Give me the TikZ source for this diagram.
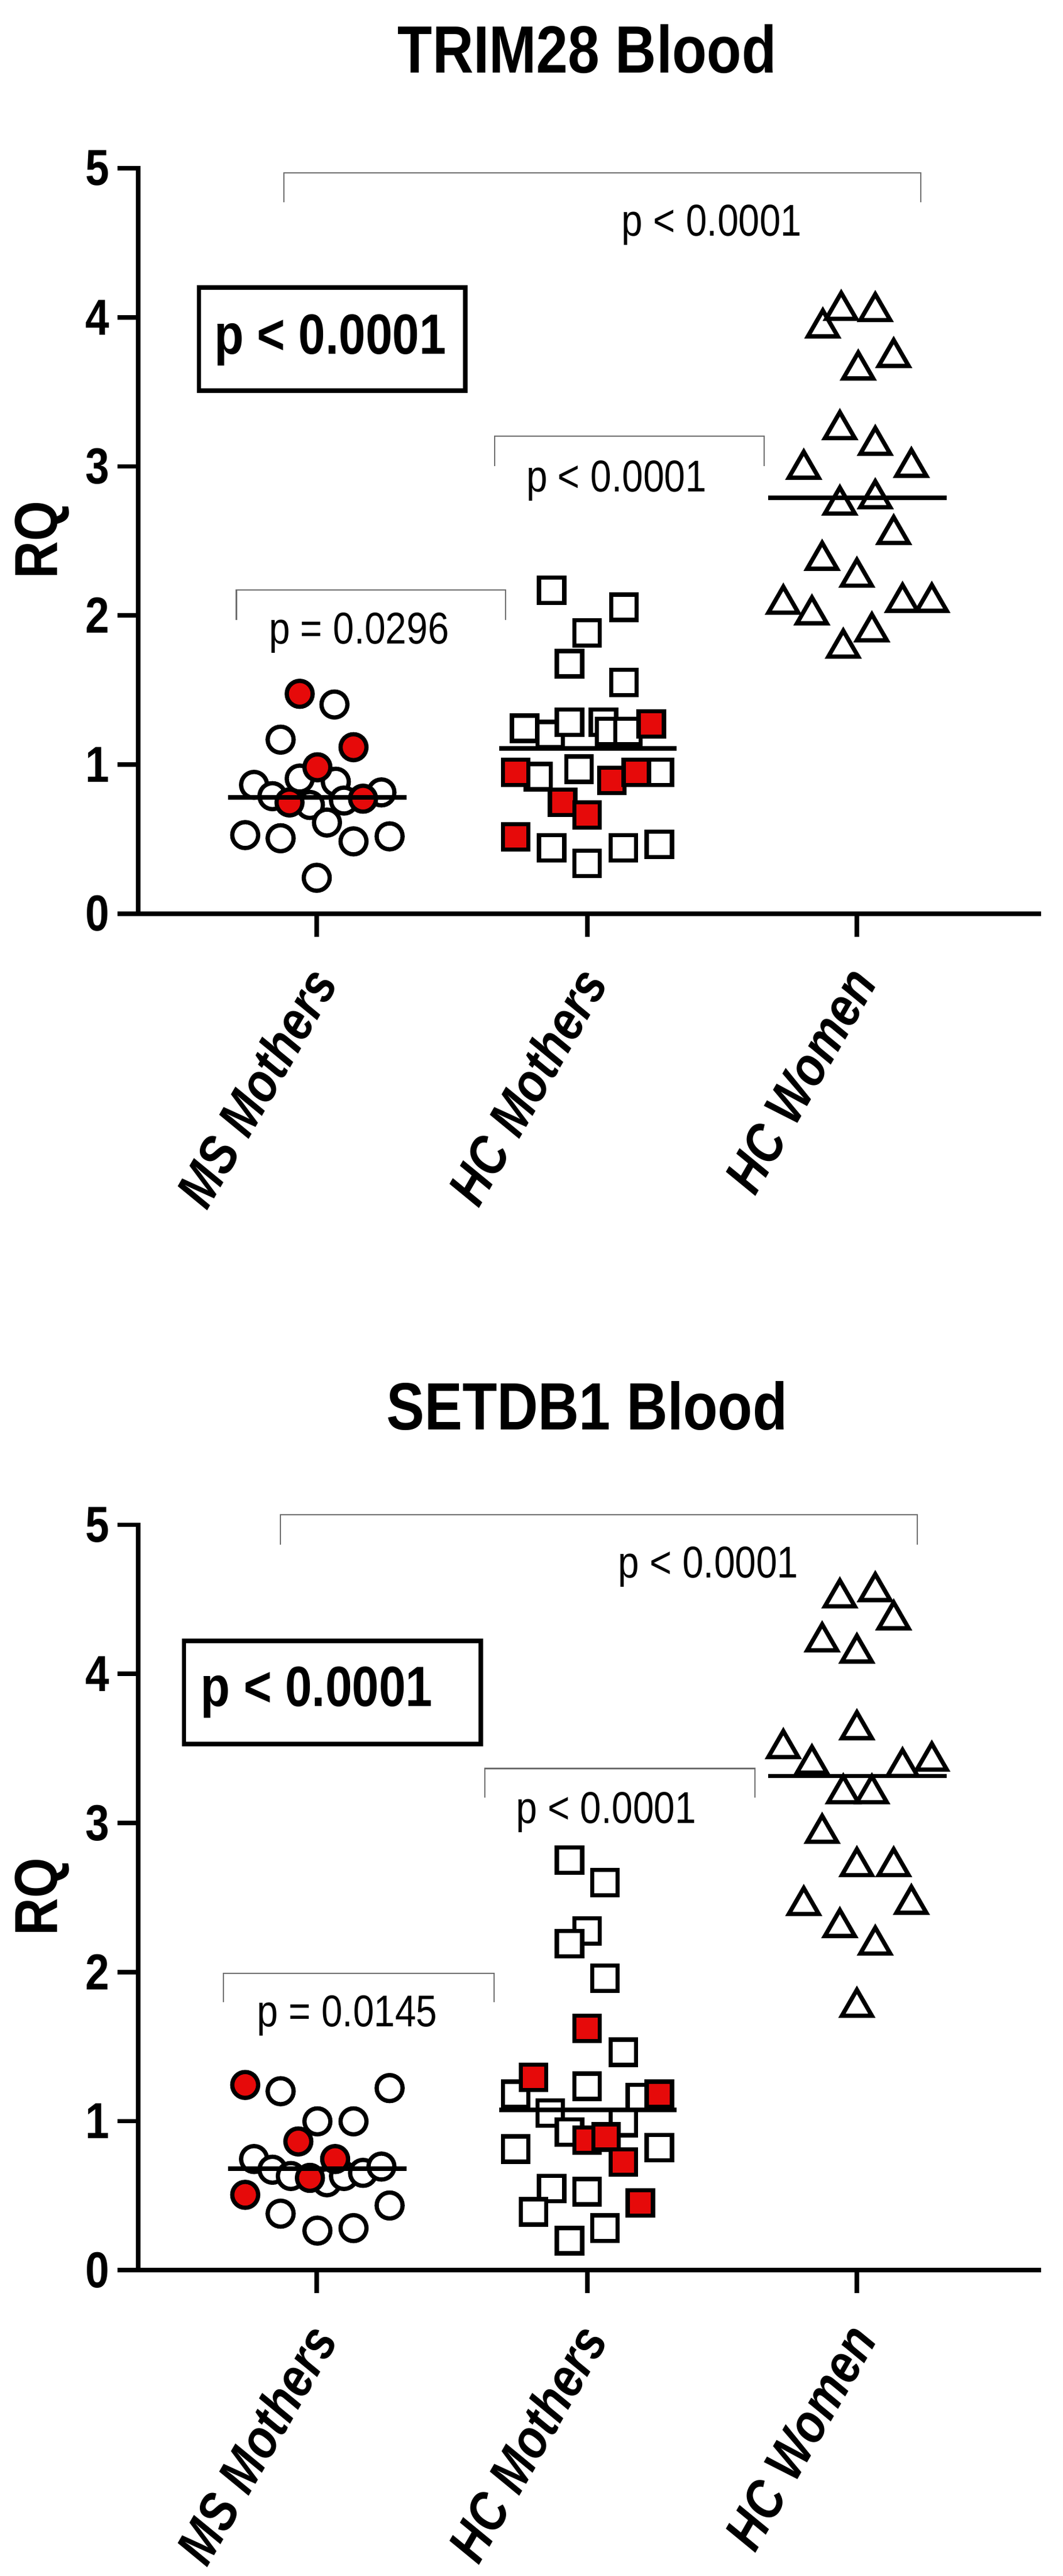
\documentclass[tikz,border=0pt]{standalone}
\usepackage{fontspec}
\setmainfont{Liberation Sans}[FakeStretch=0.85]
\usetikzlibrary{shapes.geometric}
\definecolor{ptred}{RGB}{230,10,10}
\definecolor{brgray}{RGB}{110,110,110}
\tikzset{
  mk/.style={draw=black,line width=2.1pt,inner sep=0pt,fill=white},
  circ/.style={mk,circle,minimum size=0.45cm},
  sq/.style={mk,rectangle,minimum size=0.44cm},
  tri/.style={mk,regular polygon,regular polygon sides=3,minimum size=0.6cm},
  redm/.style={fill=ptred},
  axisline/.style={line width=2.2pt,line cap=rect},
  meanline/.style={line width=2.2pt},
  bracket/.style={draw=brgray,line width=0.6pt},
  ticklab/.style={font=\fontsize{25pt}{25pt}\selectfont\bfseries,anchor=east,inner sep=0pt},
  brlab/.style={font=\fontsize{22pt}{22pt}\selectfont,inner sep=0pt},
  ptitle/.style={font=\fontsize{33pt}{33pt}\selectfont\bfseries,inner sep=0pt},
  grouplab/.style={font=\fontsize{27pt}{27pt}\selectfont\bfseries\itshape,anchor=east,rotate=60,inner sep=0pt},
  pbox/.style={draw,line width=2.2pt,minimum width=0pt},
  boxtext/.style={font=\fontsize{28pt}{28pt}\selectfont\bfseries,inner sep=0pt},
  rqlab/.style={font=\fontsize{30pt}{30pt}\selectfont\bfseries,rotate=90,inner sep=0pt}
}
\newcommand\axesfor[5]{% #1 y0, #2 y5, #3 prefix
  \coordinate (#3top) at (203,#2);
  \coordinate (#3orig) at (203,#1);
  \coordinate (#3right) at (1525,#1);
  \draw[axisline] (#3top) -- (#3orig) -- (#3right);
  \foreach \v in {0,...,5}{
    \pgfmathsetmacro\yy{#1-(#1-#2)*\v/5}
    \coordinate (#3yt\v) at (203,\yy);
    \draw[axisline] (#3yt\v) -- ++(-27,0) node[ticklab,xshift=-4pt] (#3yl\v) {\v};
  }
  \foreach \xx/\nm in {465/MS Mothers,862/HC Mothers,1258/HC Women}{
    \coordinate (#3xt\xx) at (\xx,#1);
    \draw[axisline] (#3xt\xx) -- ++(0,33);
    \node[grouplab] (#3gl\xx) at (\xx+8,#1+#4) {\nm};
  }
  \node[rqlab] (#3rq) at (62,#5) {RQ};
}
\begin{document}
\begin{tikzpicture}[x=0.011827cm,y=-0.010898cm]
\useasboundingbox (0,0) rectangle (1560,4102.6);
% ---------------- TOP PANEL ----------------
\begin{scope}
\node[ptitle] (t1) at (862,78) {TRIM28 Blood};
\axesfor{1455}{268}{a}{95}{860}
\node[pbox,minimum width=391*0.011827cm,minimum height=164*0.010898cm] (a-box) at (487.5,540) {};
\node[boxtext] (a-boxt) at (485,542) {p < 0.0001};
\draw[bracket] (417,322) -- (417,275) -- (1352,275) -- (1352,322);
\node[brlab] (a-b1) at (1045,358) {p < 0.0001};
\draw[bracket] (726,742) -- (726,695) -- (1122,695) -- (1122,742);
\node[brlab] (a-b2) at (905,766) {p < 0.0001};
\draw[bracket] (347,987) -- (347,940) -- (742,940) -- (742,987);
\node[brlab] (a-b3) at (527,1008) {p = 0.0296};
\foreach \x/\y [count=\i] in {491/1122,412/1178,373/1250,400/1268,440/1240,493/1245,505/1275,560/1262,455/1282,480/1310,360/1330,412/1335,519/1340,572/1332,465/1398}
  \node[circ] (ac\i) at (\x,\y) {};
\foreach \x/\y [count=\i] in {440/1105,519/1190,466/1222,425/1278,533/1272}
  \node[circ,redm] (acr\i) at (\x,\y) {};
\foreach \x/\y [count=\i] in {810/940,916/967,862/1008,836/1057,916/1087,770/1160,808/1170,836/1150,886/1150,895/1165,922/1165,790/1237,850/1225,968/1230,810/1350,862/1375,915/1350,968/1345}
  \node[sq] (as\i) at (\x,\y) {};
\foreach \x/\y [count=\i] in {956/1153,757/1230,898/1243,934/1230,826/1278,862/1298,757/1333}
  \node[sq,redm] (asr\i) at (\x,\y) {};
\foreach \x/\y [count=\i] in {1208/518,1235/490,1285/492,1260/585,1312/565,1233/680,1285/705,1180/743,1338/740,1233/800,1285/790,1312/847,1207/888,1258/915,1150/958,1192/975,1325/955,1368/955,1238/1028,1280/1002}
  \node[tri] (at\i) at (\x,\y+4) {};
\draw[meanline] (335,1270) -- (597,1270);
\draw[meanline] (733,1192) -- (993,1192);
\draw[meanline] (1128,793) -- (1390,793);
\end{scope}
% ---------------- BOTTOM PANEL ----------------
\begin{scope}[shift={(0,2110.5)}]
\node[ptitle] (t2) at (862,128) {SETDB1 Blood};
\axesfor{1505}{318}{b}{95}{910}
\node[pbox,minimum width=436*0.011827cm,minimum height=164*0.010898cm] (b-box) at (488,585) {};
\node[boxtext] (b-boxt) at (465,585) {p < 0.0001};
\draw[bracket] (412,350) -- (412,302) -- (1347,302) -- (1347,350);
\node[brlab] (b-b1) at (1040,385) {p < 0.0001};
\draw[bracket] (712,752) -- (712,706) -- (1108,706) -- (1108,752);
\node[brlab] (b-b2) at (890,776) {p < 0.0001};
\draw[bracket] (328,1078) -- (328,1032) -- (725,1032) -- (725,1078);
\node[brlab] (b-b3) at (510,1100) {p = 0.0145};
\foreach \x/\y [count=\i] in {412/1220,572/1215,466/1268,519/1268,373/1328,400/1345,427/1355,480/1365,505/1355,533/1350,560/1340,412/1415,572/1402,466/1442,519/1438}
  \node[circ] (bc\i) at (\x,\y) {};
\foreach \x/\y [count=\i] in {360/1210,438/1300,492/1328,455/1358,360/1385}
  \node[circ,redm] (bcr\i) at (\x,\y) {};
\foreach \x/\y [count=\i] in {836/852,888/888,862/965,836/985,888/1040,915/1158,862/1212,757/1225,940/1230,808/1255,915/1270,836/1285,757/1312,968/1310,810/1375,862/1380,783/1412,888/1438,836/1458}
  \node[sq] (bs\i) at (\x,\y) {};
\foreach \x/\y [count=\i] in {862/1120,783/1198,968/1225,862/1298,890/1293,915/1333,940/1398}
  \node[sq,redm] (bsr\i) at (\x,\y) {};
\foreach \x/\y [count=\i] in {1233/430,1285/420,1312/465,1207/500,1258/518,1258/640,1150/670,1192/695,1325/700,1368/690,1238/742,1280/742,1207/805,1258/858,1312/858,1180/920,1338/918,1233/955,1285/983,1258/1082}
  \node[tri] (bt\i) at (\x,\y+4) {};
\draw[meanline] (335,1343) -- (597,1343);
\draw[meanline] (733,1250) -- (993,1250);
\draw[meanline] (1128,718) -- (1390,718);
\end{scope}
\end{tikzpicture}
\end{document}
